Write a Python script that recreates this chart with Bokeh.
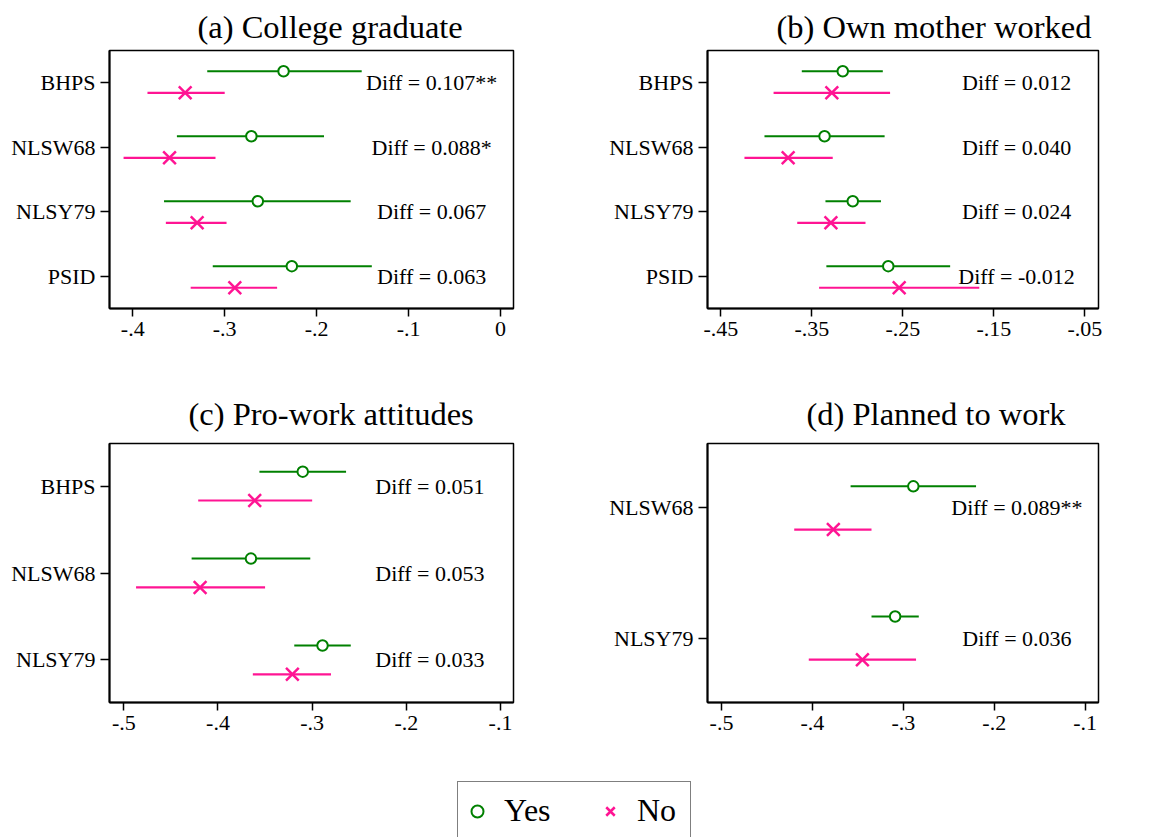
from bokeh.plotting import figure
from bokeh.models import (ColumnDataSource, FixedTicker, Range1d, Legend,
                          LegendItem)
from bokeh.layouts import column, row
from bokeh.embed import file_html
from bokeh.resources import INLINE
from bokeh.core.properties import value

# ---------------- data ----------------
# (a) College graduate
cats_a = ["BHPS", "NLSW68", "NLSY79", "PSID"]
yes_a = [-0.236, -0.271, -0.264, -0.227]
yes_lo_a = [-0.319, -0.352, -0.366, -0.313]
yes_hi_a = [-0.151, -0.192, -0.163, -0.140]
no_a = [-0.343, -0.360, -0.330, -0.289]
no_lo_a = [-0.384, -0.410, -0.364, -0.337]
no_hi_a = [-0.300, -0.310, -0.298, -0.243]
diff_a = ["Diff = 0.107**", "Diff = 0.088*", "Diff = 0.067", "Diff = 0.063"]
ticks_a = [-0.4, -0.3, -0.2, -0.1, 0]
labels_a = ["-.4", "-.3", "-.2", "-.1", "0"]

# (b) Own mother worked
cats_b = ["BHPS", "NLSW68", "NLSY79", "PSID"]
yes_b = [-0.316, -0.336, -0.305, -0.266]
yes_lo_b = [-0.361, -0.402, -0.335, -0.334]
yes_hi_b = [-0.272, -0.270, -0.274, -0.198]
no_b = [-0.328, -0.376, -0.329, -0.254]
no_lo_b = [-0.392, -0.424, -0.366, -0.342]
no_hi_b = [-0.264, -0.327, -0.291, -0.166]
diff_b = ["Diff = 0.012", "Diff = 0.040", "Diff = 0.024", "Diff = -0.012"]
ticks_b = [-0.45, -0.35, -0.25, -0.15, -0.05]
labels_b = ["-.45", "-.35", "-.25", "-.15", "-.05"]

# (c) Pro-work attitudes
cats_c = ["BHPS", "NLSW68", "NLSY79"]
yes_c = [-0.310, -0.365, -0.289]
yes_lo_c = [-0.356, -0.428, -0.319]
yes_hi_c = [-0.264, -0.302, -0.259]
no_c = [-0.361, -0.419, -0.321]
no_lo_c = [-0.421, -0.487, -0.363]
no_hi_c = [-0.300, -0.350, -0.280]
diff_c = ["Diff = 0.051", "Diff = 0.053", "Diff = 0.033"]
ticks_c = [-0.5, -0.4, -0.3, -0.2, -0.1]
labels_c = ["-.5", "-.4", "-.3", "-.2", "-.1"]

# (d) Planned to work
cats_d = ["NLSW68", "NLSY79"]
yes_d = [-0.289, -0.309]
yes_lo_d = [-0.358, -0.335]
yes_hi_d = [-0.220, -0.283]
no_d = [-0.377, -0.345]
no_lo_d = [-0.420, -0.404]
no_hi_d = [-0.335, -0.286]
diff_d = ["Diff = 0.089**", "Diff = 0.036"]
ticks_d = [-0.5, -0.4, -0.3, -0.2, -0.1]
labels_d = ["-.5", "-.4", "-.3", "-.2", "-.1"]

titles = ["(a) College graduate", "(b) Own mother worked",
          "(c) Pro-work attitudes", "(d) Planned to work"]
legend_labels = ["Yes", "No"]

# ---------------- style ----------------
FONT = "Liberation Serif"
GREEN = "#008000"
PINK = "#ff1493"
OFF = 0.166


def panel(title, cats, ye, ylo, yhi, ne, nlo, nhi, diffs, ticks, tlabels,
          xr, ypad, diff_x, width, height, bl, br, bt, bb, t_off, t_standoff):
    n = len(cats)
    ypos = [n - i for i in range(n)]
    src = ColumnDataSource(dict(
        y=ypos,
        yy=[v + OFF for v in ypos],
        ny=[v - OFF for v in ypos],
        ye=ye, ylo=ylo, yhi=yhi, ne=ne, nlo=nlo, nhi=nhi,
        diff=diffs, dx=[diff_x] * n,
    ))
    p = figure(width=width, height=height,
               x_range=Range1d(*xr), y_range=Range1d(1 - ypad, n + ypad),
               output_backend="svg", toolbar_location=None,
               min_border_left=bl, min_border_right=br,
               min_border_top=bt, min_border_bottom=bb)
    p.title.text = title
    p.title.text_font = FONT
    p.title.text_font_size = "32.5px"
    p.title.text_font_style = "normal"
    p.title.text_color = "black"
    p.title.align = "left"
    p.title.offset = t_off
    p.title.standoff = t_standoff

    p.background_fill_color = "white"
    p.border_fill_color = "white"
    p.xgrid.visible = False
    p.ygrid.visible = False
    p.outline_line_color = "black"
    p.outline_line_width = 1.5

    p.segment(x0="ylo", x1="yhi", y0="yy", y1="yy", source=src,
              line_color=GREEN, line_width=2)
    p.segment(x0="nlo", x1="nhi", y0="ny", y1="ny", source=src,
              line_color=PINK, line_width=2.2)
    p.scatter(x="ye", y="yy", source=src, marker="circle", size=10.5,
              line_color=GREEN, line_width=2, fill_color="white")
    p.scatter(x="ne", y="ny", source=src, marker="x", size=18,
              line_color=PINK, line_width=2.5)
    p.text(x="dx", y="y", text="diff", source=src,
           text_font=value(FONT), text_font_size="22px",
           text_align="center", text_baseline="middle", text_color="black")

    p.xaxis.ticker = FixedTicker(ticks=ticks)
    p.xaxis.major_label_overrides = {t: l for t, l in zip(ticks, tlabels)}
    p.yaxis.ticker = FixedTicker(ticks=ypos)
    p.yaxis.major_label_overrides = {v: c for v, c in zip(ypos, cats)}
    for ax in p.axis:
        ax.axis_line_width = 2
        ax.axis_line_color = "black"
        ax.major_tick_line_width = 1.5
        ax.major_tick_line_color = "black"
        ax.minor_tick_line_color = None
        ax.major_tick_in = 0
        ax.major_label_text_font = FONT
        ax.major_label_text_font_size = "22px"
        ax.major_label_text_color = "black"
        ax.major_label_standoff = 5
    p.xaxis.major_tick_out = 8
    p.yaxis.major_tick_out = 9
    return p


fa = panel(titles[0], cats_a, yes_a, yes_lo_a, yes_hi_a, no_a, no_lo_a,
           no_hi_a, diff_a, ticks_a, labels_a, (-0.4253, 0.0141), 0.485,
           -0.075, 580, 379, 109, 67, 50, 71, 88, 11)
fb = panel(titles[1], cats_b, yes_b, yes_lo_b, yes_hi_b, no_b, no_lo_b,
           no_hi_b, diff_b, ticks_b, labels_b, (-0.4646, -0.035), 0.485,
           -0.125, 581, 379, 127, 63, 50, 71, 69, 11)
fc = panel(titles[2], cats_c, yes_c, yes_lo_c, yes_hi_c, no_c, no_lo_c,
           no_hi_c, diff_c, ticks_c, labels_c, (-0.5152, -0.0862), 0.49,
           -0.175, 580, 391, 109, 67, 64, 68, 79, 24)
fd = panel(titles[3], cats_d, yes_d, yes_lo_d, yes_hi_d, no_d, no_lo_d,
           no_hi_d, diff_d, ticks_d, labels_d, (-0.5154, -0.0853), 0.495,
           -0.175, 581, 391, 127, 63, 64, 68, 99, 24)

# ---------------- legend ----------------
pl = figure(width=1161, height=67, x_range=Range1d(0, 1), y_range=Range1d(0, 1),
            x_axis_type=None, y_axis_type=None, toolbar_location=None,
            output_backend="svg", min_border=0, outline_line_color=None)
pl.xgrid.visible = False
pl.ygrid.visible = False
nan = float("nan")
r_yes = pl.scatter(x=[nan], y=[nan], marker="circle", line_color=GREEN,
                   line_width=2, fill_color="white")
r_no = pl.scatter(x=[nan], y=[nan], marker="x", line_color=PINK,
                  line_width=2.5)
leg = Legend(items=[LegendItem(label=legend_labels[0], renderers=[r_yes]),
                    LegendItem(label=legend_labels[1], renderers=[r_no])],
             orientation="horizontal", location=(457, -3), margin=0,
             padding=4, spacing=42, glyph_width=30, glyph_height=32,
             label_standoff=12, label_width=49, label_height=49,
             label_text_font=FONT, label_text_font_size="32px",
             label_text_color="black", label_text_baseline="middle",
             border_line_color="black", border_line_width=1.5,
             background_fill_color="white", background_fill_alpha=1)
pl.add_layout(leg)

layout = column(row(fa, fb), row(fc, fd), pl)
open("out.html", "w").write(file_html(layout, INLINE))
